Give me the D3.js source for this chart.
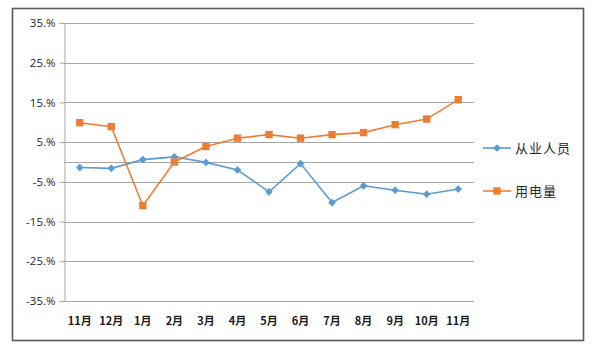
<!DOCTYPE html>
<html>
<head>
<meta charset="utf-8">
<script src="https://cdn.jsdelivr.net/npm/d3@7"></script>
<style>
  html, body { margin: 0; padding: 0; background: #fff; }
  svg { display: block; }
</style>
</head>
<body>
<svg id="chart" width="600" height="349"></svg>
<script>
// Monthly year-on-year growth (%)
const months = ["11月", "12月", "1月", "2月", "3月", "4月", "5月", "6月", "7月", "8月", "9月", "10月", "11月"];
const employees = [-1.4, -1.6, 0.6, 1.3, -0.1, -2.0, -7.5, -0.4, -10.2, -6.0, -7.1, -8.1, -6.8];
const electricity = [9.9, 8.9, -11.0, 0.0, 3.9, 6.0, 6.9, 6.0, 6.9, 7.4, 9.4, 10.8, 15.7];
const yTicks = [35, 25, 15, 5, -5, -15, -25, -35];
const seriesNames = ["从业人员", "用电量"];

const blue = "#5b9bd5";
const orange = "#ed7d31";

const svg = d3.select("#chart");

// outer frame
svg.append("rect")
  .attr("x", 12.5).attr("y", 8.5)
  .attr("width", 571).attr("height", 332)
  .attr("fill", "#fff")
  .attr("stroke", "#595959").attr("stroke-width", 1.6);

const plot = { left: 64, right: 474, top: 23, bottom: 301 };

const x = d3.scaleBand()
  .domain(d3.range(months.length))
  .range([plot.left, plot.right]);

const y = d3.scaleLinear()
  .domain([-35, 35])
  .range([plot.bottom, plot.top]);

const cx = i => x(i) + x.bandwidth() / 2;

// horizontal gridlines
svg.append("g")
  .selectAll("line")
  .data(yTicks)
  .join("line")
  .attr("x1", plot.left).attr("x2", plot.right)
  .attr("y1", d => Math.round(y(d)) + 0.5).attr("y2", d => Math.round(y(d)) + 0.5)
  .attr("stroke", "#a6a6a6").attr("stroke-width", 1);

// value axis
const yAxis = svg.append("g")
  .attr("transform", `translate(${plot.left + 0.5},0)`)
  .call(d3.axisLeft(y).tickValues(yTicks).tickSize(5).tickPadding(4)
    .tickFormat(d => d + ".%"));
yAxis.select(".domain").attr("stroke", "#a6a6a6");
yAxis.selectAll(".tick line").attr("stroke", "#a6a6a6");
yAxis.selectAll(".tick text")
  .attr("fill", "#1f1f1f")
  .style("font-family", "'Open Sans', 'Noto Sans', sans-serif")
  .style("font-size", "11.5px");

// category axis at zero
svg.append("line")
  .attr("x1", plot.left).attr("x2", plot.right)
  .attr("y1", Math.round(y(0)) + 0.5).attr("y2", Math.round(y(0)) + 0.5)
  .attr("stroke", "#a6a6a6").attr("stroke-width", 1.2);

// category labels along the bottom
svg.append("g")
  .selectAll("text")
  .data(months)
  .join("text")
  .attr("x", (d, i) => cx(i))
  .attr("y", 325)
  .attr("text-anchor", "middle")
  .attr("fill", "#1a1a1a")
  .style("font-family", "'Noto Sans CJK SC', sans-serif")
  .style("font-size", "11px")
  .style("font-weight", "bold")
  .text(d => d);

const line = d3.line()
  .x((d, i) => cx(i))
  .y(d => y(d));

// diamond = square turned 45°
const diamond = d3.symbol().type(d3.symbolSquare).size(30);
const square = d3.symbol().type(d3.symbolSquare).size(54);

// 从业人员 series
svg.append("path")
  .datum(employees)
  .attr("d", line)
  .attr("fill", "none").attr("stroke", blue).attr("stroke-width", 1.6);
svg.append("g")
  .selectAll("path")
  .data(employees)
  .join("path")
  .attr("transform", (d, i) => `translate(${cx(i)},${y(d)}) rotate(45)`)
  .attr("d", diamond)
  .attr("fill", blue);

// 用电量 series
svg.append("path")
  .datum(electricity)
  .attr("d", line)
  .attr("fill", "none").attr("stroke", orange).attr("stroke-width", 1.6);
svg.append("g")
  .selectAll("path")
  .data(electricity)
  .join("path")
  .attr("transform", (d, i) => `translate(${cx(i)},${y(d)})`)
  .attr("d", square)
  .attr("fill", orange);

// legend
const legend = svg.append("g");
const legendY = [148, 191];
const legendColors = [blue, orange];
const legendMarks = [
  { sym: diamond, rot: 45 },
  { sym: square, rot: 0 }
];
seriesNames.forEach((name, k) => {
  const g = legend.append("g").attr("transform", `translate(483,${legendY[k]})`);
  g.append("line").attr("x1", 0).attr("x2", 28).attr("y1", 0).attr("y2", 0)
    .attr("stroke", legendColors[k]).attr("stroke-width", 1.6);
  g.append("path").attr("transform", `translate(14,0) rotate(${legendMarks[k].rot})`)
    .attr("d", legendMarks[k].sym).attr("fill", legendColors[k]);
  g.append("text").attr("x", 32).attr("y", 0).attr("dy", "0.36em")
    .attr("fill", "#262626")
    .style("font-family", "'Noto Sans CJK SC', sans-serif")
    .style("font-size", "13px")
    .style("letter-spacing", "1px")
    .text(name);
});
</script>
</body>
</html>
